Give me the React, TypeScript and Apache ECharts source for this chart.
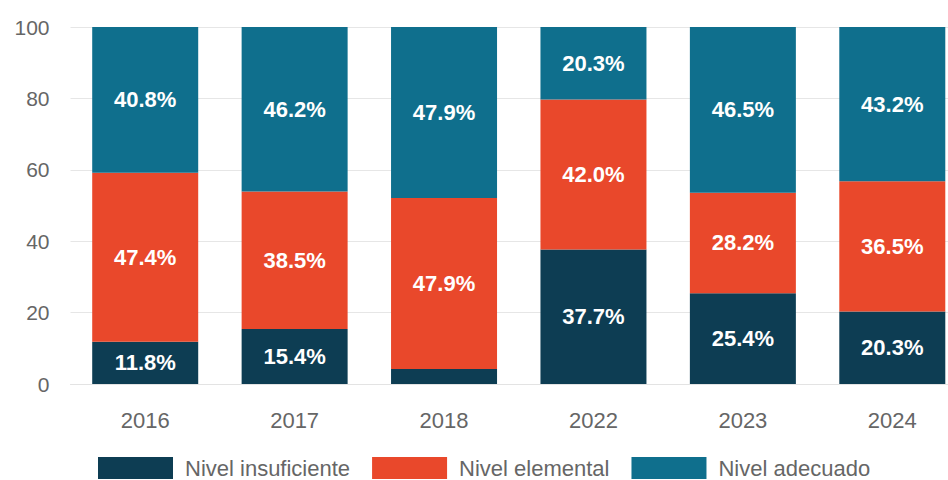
import React, { useEffect, useRef } from "react";
import * as echarts from "echarts";

const categories = ["2016", "2017", "2018", "2022", "2023", "2024"];
const insuficiente = [11.8, 15.4, 4.2, 37.7, 25.4, 20.3];
const elemental = [47.4, 38.5, 47.9, 42.0, 28.2, 36.5];
const adecuado = [40.8, 46.2, 47.9, 20.3, 46.5, 43.2];
const seriesNames = ["Nivel insuficiente", "Nivel elemental", "Nivel adecuado"];
const colors = ["#0d3d53", "#e9482b", "#0f6f8d"];

export default function App() {
  const ref = useRef<HTMLDivElement>(null);
  useEffect(() => {
    if (!ref.current) return;
    const chart = echarts.init(ref.current, null, { renderer: "svg" });
    const label = {
      show: true,
      position: "inside",
      color: "#ffffff",
      fontWeight: "bold",
      fontSize: 22,
      fontFamily: "Liberation Sans, Arial, sans-serif",
      formatter: (p: any) => (p.value < 5 ? "" : p.value.toFixed(1) + "%"),
    };
    const datas = [insuficiente, elemental, adecuado];
    chart.setOption({
      animation: false,
      textStyle: { fontFamily: "Liberation Sans, Arial, sans-serif" },
      grid: {
        left: 70.5,
        right: -19,
        top: 27,
        bottom: 96,
        containLabel: false,
        outerBoundsMode: "none",
      },
      legend: {
        left: 98,
        top: 457,
        padding: 0,
        itemWidth: 75,
        itemHeight: 22,
        itemGap: 22,
        icon: "rect",
        textStyle: { fontSize: 22, lineHeight: 22, color: "#666", padding: [0, 0, 0, 7] },
        data: seriesNames,
      },
      xAxis: {
        type: "category",
        data: categories,
        axisTick: { show: false },
        axisLine: { lineStyle: { color: "#e3e3e3" } },
        axisLabel: { fontSize: 22, color: "#666", margin: 25 },
      },
      yAxis: {
        type: "value",
        min: 0,
        max: 100,
        interval: 20,
        axisLabel: { fontSize: 21, color: "#666", margin: 21 },
        splitLine: { lineStyle: { color: "#e6e6e6" } },
      },
      series: seriesNames.map((name, i) => ({
        name,
        type: "bar",
        stack: "total",
        barWidth: 106,
        itemStyle: { color: colors[i] },
        label,
        data: datas[i],
      })),
    });
    return () => chart.dispose();
  }, []);
  return <div ref={ref} style={{ width: 948, height: 480, position: "absolute", left: 0, top: 0 }} />;
}
